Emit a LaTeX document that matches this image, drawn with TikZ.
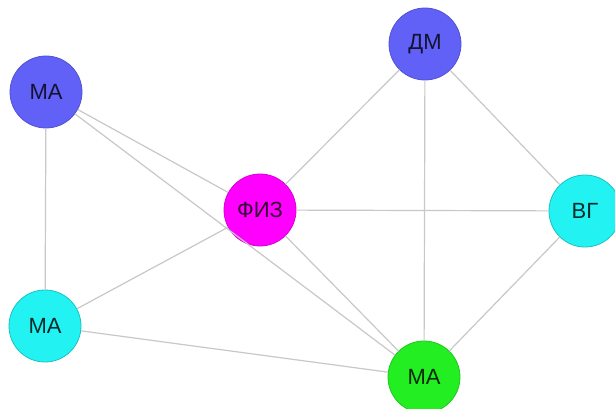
\documentclass[tikz,border=0pt]{standalone}
\usepackage{fontspec}
\setmainfont{Liberation Sans}
\usepackage{xcolor}
\definecolor{blueish}{HTML}{6161F7}
\definecolor{magentaish}{HTML}{FF00FF}
\definecolor{cyanish}{HTML}{22F2F2}
\definecolor{greenish}{HTML}{22EE22}
\definecolor{edgegray}{HTML}{C8C8C8}
\usetikzlibrary{positioning}

\begin{document}
\begin{tikzpicture}[
  x=1pt, y=-1pt,
  font=\fontsize{22}{26}\selectfont,
  vert/.style={circle, minimum size=72pt, inner sep=0pt, line width=0.8pt},
  vblue/.style={vert, fill=blueish, draw=blueish!85!black, text=blueish!20!black},
  vmag/.style={vert, fill=magentaish, draw=magentaish!85!black, text=magentaish!20!black},
  vcyan/.style={vert, fill=cyanish, draw=cyanish!80!black, text=cyanish!18!black},
  vgreen/.style={vert, fill=greenish, draw=greenish!85!black, text=greenish!18!black},
  edge/.style={draw=edgegray, line width=1.2pt}
]
  \useasboundingbox (0,0) rectangle (615,409);
  \fill[white] (0,0) rectangle (615,409);
  \node[vblue] (ma1) at (46,92) {МА};
  \node[vblue] (dm) at (425,44) {ДМ};
  \node[vmag] (fiz) at (260,210) {ФИЗ};
  \node[vcyan] (vg) at (585,211) {ВГ};
  \node[vcyan] (ma2) at (45,326) {МА};
  \node[vgreen] (ma3) at (424,377) {МА};
  % edges
  \draw[edge] (ma1) -- (ma2);
  \draw[edge] (ma1) -- (fiz);
  \draw[edge] (ma1) -- (ma3);
  \draw[edge] (fiz) -- (dm);
  \draw[edge] (fiz) -- (vg);
  \draw[edge] (fiz) -- (ma2);
  \draw[edge] (fiz) -- (ma3);
  \draw[edge] (dm) -- (ma3);
  \draw[edge] (dm) -- (vg);
  \draw[edge] (vg) -- (ma3);
  \draw[edge] (ma2) -- (ma3);
\end{tikzpicture}
\end{document}
